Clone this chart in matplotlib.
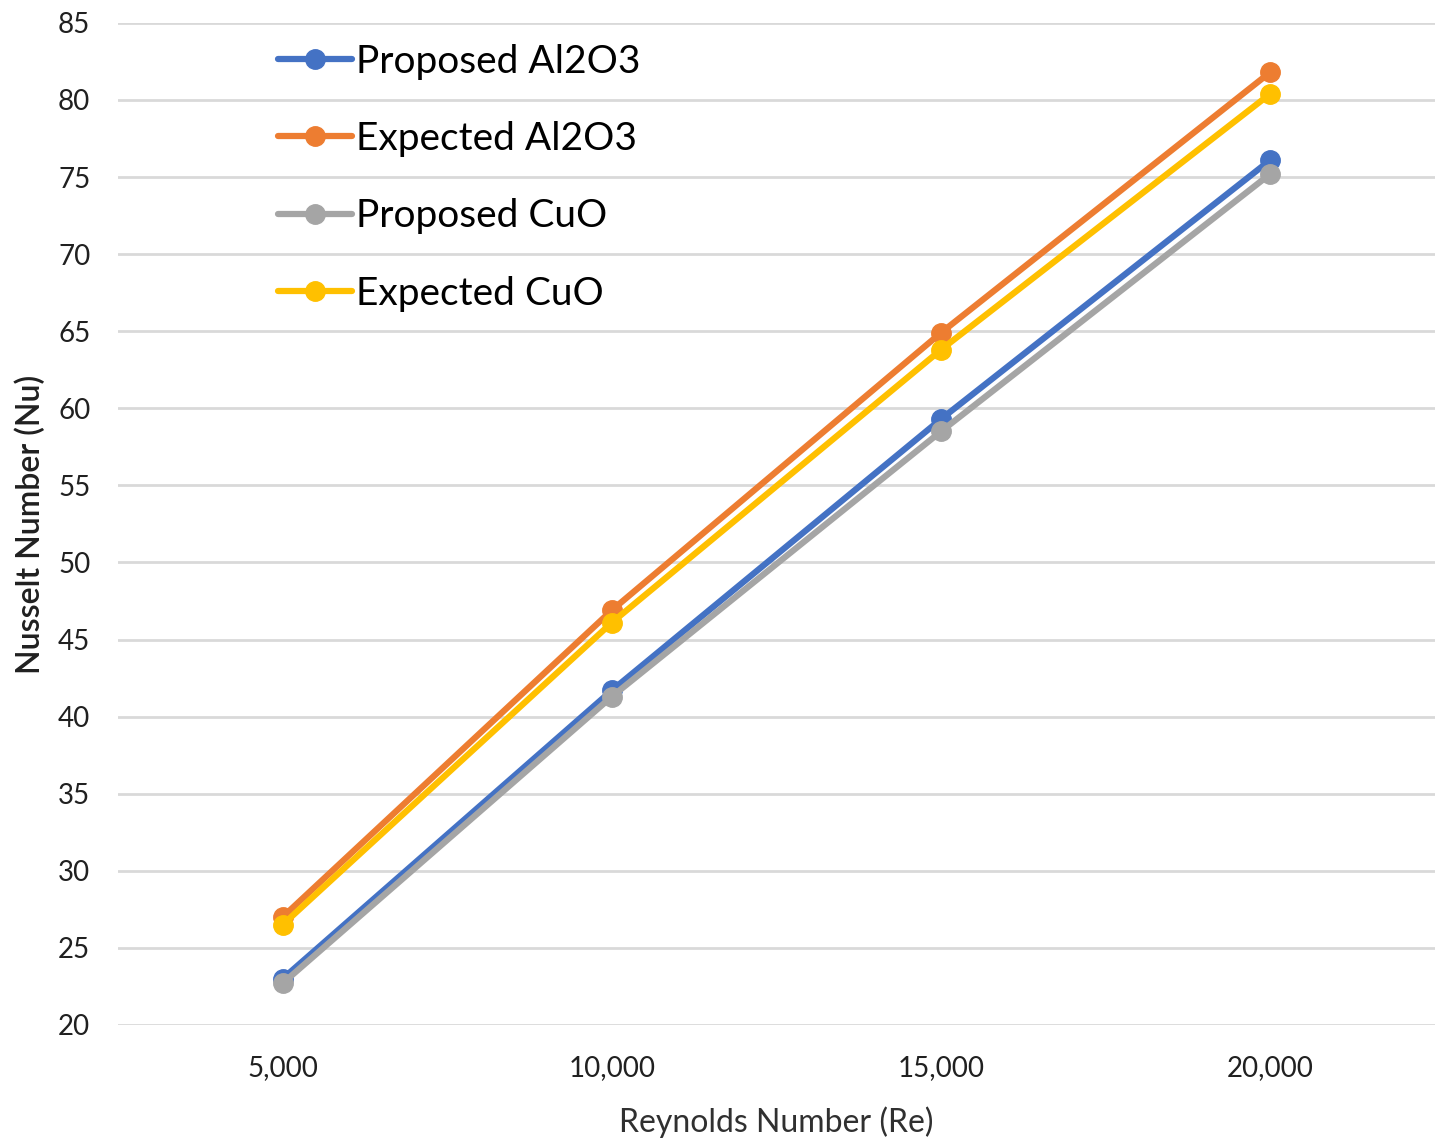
import matplotlib
matplotlib.use("Agg")
import numpy as np
import matplotlib.pyplot as plt

plt.rcParams['font.family'] = ['Lato', 'DejaVu Sans']

reynolds = ['5,000', '10,000', '15,000', '20,000']
proposed_al2o3 = [23.0, 41.7, 59.3, 76.1]
expected_al2o3 = [27.0, 46.9, 64.9, 81.8]
proposed_cuo = [22.7, 41.3, 58.5, 75.2]
expected_cuo = [26.5, 46.1, 63.8, 80.4]

series = [
    ('Proposed Al2O3', proposed_al2o3, '#4472C4'),
    ('Expected Al2O3', expected_al2o3, '#ED7D31'),
    ('Proposed CuO', proposed_cuo, '#A5A5A5'),
    ('Expected CuO', expected_cuo, '#FFC000'),
]

fig = plt.figure(figsize=(14.45, 11.42), dpi=100)
ax = fig.add_axes([0.0817, 0.1025, 0.9113, 0.8775])

x = np.arange(len(reynolds))
for name, vals, col in series:
    ax.plot(x, vals, color=col, lw=4.5, marker='o', markersize=14,
            solid_capstyle='round', label=name)

ax.set_xlim(-0.5, 3.5)
ax.set_ylim(20, 85)
ax.set_yticks(np.arange(20, 86, 5))
ax.set_xticks(x)
ax.set_xticklabels(reynolds)
ax.grid(axis='y', color='#D9D9D9', lw=2)
ax.set_axisbelow(True)
for s in ax.spines.values():
    s.set_visible(False)
ax.tick_params(length=0, labelsize=20, pad=22)
ax.tick_params(axis='y', pad=20)
for lbl in ax.get_xticklabels() + ax.get_yticklabels():
    lbl.set_color('#202020')

ax.set_xlabel('Reynolds Number (Re)', fontsize=23, color='#303030', labelpad=18)
ax.set_ylabel('Nusselt Number (Nu)', fontsize=23, color='#202020',
              labelpad=9, fontweight='semibold')

ax.legend(loc='upper left', bbox_to_anchor=(0.1215, 0.979), frameon=False,
          fontsize=28, handlelength=1.9, handletextpad=0.1, labelspacing=1.06,
          borderaxespad=0, borderpad=0)

fig.savefig('out.png', dpi=100)
